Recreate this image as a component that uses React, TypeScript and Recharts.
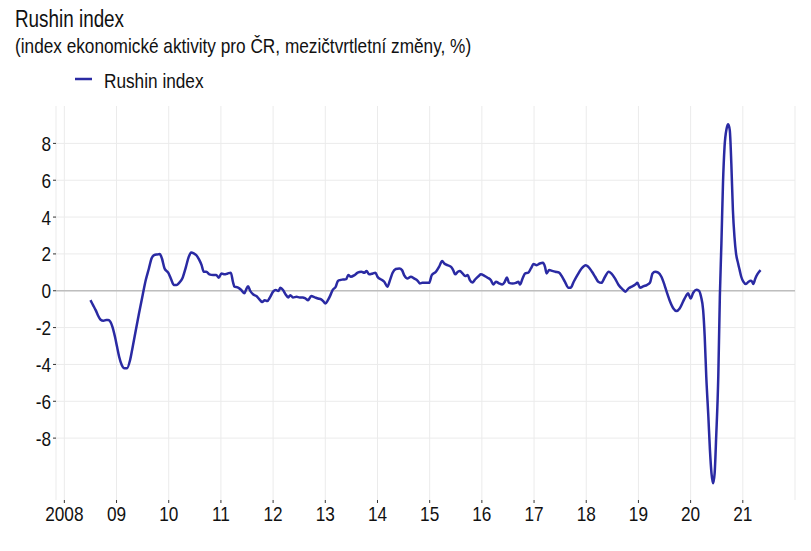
import { LineChart, Line, XAxis, YAxis, CartesianGrid, ReferenceLine } from 'recharts'

// decimal year of each observation
const dates = [
  2008.50, 2008.55, 2008.60, 2008.65, 2008.69, 2008.75, 2008.80, 2008.84, 2008.88, 2008.92, 2008.97,
  2009.01, 2009.05, 2009.10, 2009.15, 2009.20, 2009.26, 2009.31, 2009.37, 2009.43, 2009.50, 2009.56,
  2009.62, 2009.67, 2009.72, 2009.78, 2009.83, 2009.87, 2009.92, 2009.99,
  2010.04, 2010.10, 2010.15, 2010.20, 2010.26, 2010.33, 2010.38, 2010.43, 2010.48, 2010.53, 2010.58,
  2010.63, 2010.67, 2010.72, 2010.78, 2010.85, 2010.91, 2010.96,
  2011.01, 2011.07, 2011.13, 2011.19, 2011.23, 2011.26, 2011.32, 2011.39, 2011.45, 2011.48, 2011.52,
  2011.56, 2011.62, 2011.68, 2011.75, 2011.79, 2011.84, 2011.89, 2011.94,
  2012.00, 2012.05, 2012.10, 2012.14, 2012.19, 2012.24, 2012.29, 2012.33, 2012.38, 2012.45, 2012.51,
  2012.57, 2012.62, 2012.67, 2012.73, 2012.80, 2012.86, 2012.92, 2012.97,
  2013.00, 2013.05, 2013.09, 2013.14, 2013.20, 2013.24, 2013.28, 2013.34, 2013.40, 2013.44, 2013.49,
  2013.56, 2013.62, 2013.69, 2013.75, 2013.79, 2013.84, 2013.91, 2013.96,
  2014.00, 2014.07, 2014.13, 2014.19, 2014.24, 2014.29, 2014.35, 2014.42, 2014.47, 2014.51, 2014.58,
  2014.64, 2014.70, 2014.77, 2014.81, 2014.86, 2014.92, 2014.99,
  2015.04, 2015.12, 2015.18, 2015.24, 2015.28, 2015.34, 2015.41, 2015.45, 2015.49, 2015.54, 2015.58,
  2015.63, 2015.68, 2015.73, 2015.77, 2015.82, 2015.87, 2015.94, 2015.98,
  2016.05, 2016.11, 2016.17, 2016.22, 2016.27, 2016.33, 2016.39, 2016.44, 2016.48, 2016.52, 2016.59,
  2016.65, 2016.70, 2016.73, 2016.78, 2016.83, 2016.89, 2016.94, 2016.99,
  2017.05, 2017.11, 2017.17, 2017.21, 2017.24, 2017.29, 2017.35, 2017.41, 2017.48, 2017.53, 2017.59,
  2017.66, 2017.70, 2017.76, 2017.83, 2017.91, 2017.99,
  2018.04, 2018.11, 2018.17, 2018.23, 2018.29, 2018.36, 2018.43, 2018.48, 2018.55, 2018.62, 2018.71,
  2018.75, 2018.81, 2018.87, 2018.94, 2018.98,
  2019.03, 2019.10, 2019.16, 2019.22, 2019.27, 2019.32, 2019.38, 2019.44, 2019.50, 2019.54, 2019.60,
  2019.67, 2019.73, 2019.79, 2019.86, 2019.91, 2019.95,
  2020.00, 2020.05, 2020.11, 2020.16, 2020.20, 2020.24, 2020.27, 2020.30, 2020.34, 2020.37, 2020.40,
  2020.43, 2020.46, 2020.49, 2020.53, 2020.56, 2020.59, 2020.62, 2020.65, 2020.69, 2020.72, 2020.75,
  2020.78, 2020.81, 2020.84, 2020.87, 2020.91, 2020.94, 2020.97,
  2021.01, 2021.06, 2021.11, 2021.15, 2021.18, 2021.20, 2021.24, 2021.28, 2021.34,
]

// Rushin index, q/q change in %
const rushin = [
  -0.51, -0.78, -1.05, -1.37, -1.56, -1.63, -1.59, -1.59, -1.68, -1.95, -2.50,
  -3.04, -3.58, -4.03, -4.21, -4.21, -3.76, -3.04, -2.13, -1.23, -0.24, 0.58,
  1.21, 1.75, 1.93, 1.97, 1.99, 1.75, 1.21, 0.98,
  0.67, 0.31, 0.31, 0.43, 0.67, 1.30, 1.81, 2.08, 2.03, 1.93, 1.70,
  1.39, 1.03, 1.03, 0.89, 0.85, 0.85, 0.71,
  0.94, 0.89, 0.94, 0.98, 0.49, 0.22, 0.18, 0.04, -0.14, 0.04, 0.25,
  0.00, -0.20, -0.29, -0.51, -0.61, -0.51, -0.56, -0.36,
  -0.05, 0.04, -0.02, 0.16, 0.04, -0.20, -0.36, -0.24, -0.36, -0.33, -0.36,
  -0.36, -0.42, -0.51, -0.29, -0.36, -0.42, -0.47, -0.60,
  -0.69, -0.51, -0.29, 0.04, 0.22, 0.52, 0.58, 0.61, 0.63, 0.85, 0.76,
  0.85, 0.98, 1.03, 0.98, 1.07, 0.89, 0.94, 0.98,
  0.76, 0.61, 0.49, 0.22, 0.58, 0.98, 1.18, 1.21, 1.12, 0.85, 0.67,
  0.76, 0.67, 0.54, 0.40, 0.43, 0.43, 0.43,
  0.85, 1.03, 1.30, 1.61, 1.48, 1.39, 1.30, 1.12, 0.89, 1.03, 1.07,
  0.94, 0.80, 0.85, 0.58, 0.45, 0.61, 0.80, 0.89,
  0.81, 0.71, 0.58, 0.34, 0.49, 0.40, 0.34, 0.49, 0.72, 0.43, 0.40,
  0.43, 0.49, 0.34, 0.67, 0.94, 0.98, 1.21, 1.45,
  1.39, 1.48, 1.52, 1.30, 0.94, 1.12, 1.08, 1.03, 0.98, 0.80, 0.49,
  0.16, 0.16, 0.49, 0.85, 1.21, 1.39,
  1.30, 1.03, 0.76, 0.49, 0.43, 0.76, 1.03, 0.94, 0.67, 0.31, 0.04,
  -0.05, 0.13, 0.22, 0.34, 0.43,
  0.16, 0.25, 0.31, 0.43, 0.94, 1.03, 0.98, 0.76, 0.31, -0.05, -0.54,
  -0.96, -1.10, -0.96, -0.56, -0.29, -0.14,
  -0.42, -0.11, 0.05, 0.00, -0.33, -1.05, -2.50, -4.67, -6.84, -8.64, -9.91,
  -10.45, -9.91, -7.92, -4.67, -0.33, 2.57, 5.82, 7.81, 8.81, 9.04, 8.72,
  6.91, 4.38, 2.93, 2.03, 1.48, 1.12, 0.76,
  0.49, 0.36, 0.49, 0.54, 0.49, 0.36, 0.67, 0.90, 1.12,
]

const yearTicks = [2008, 2009, 2010, 2011, 2012, 2013, 2014, 2015, 2016, 2017, 2018, 2019, 2020, 2021]
const valueTicks = [-8, -6, -4, -2, 0, 2, 4, 6, 8]
const gridValues = [-8, -7, -6, -5, -4, -3, -2, -1, 0, 1, 2, 3, 4, 5, 6, 7, 8]

const data = dates.map((t, i) => ({ t, rushin: rushin[i] }))

// no Arial Narrow offline, so squeeze Liberation Sans horizontally instead
const FONT = '"Liberation Sans", Arial, sans-serif'
const SQUEEZE = 0.82
const BLUE = '#2a2aa3'

const yearLabel = (y: number) => (y === 2008 ? '2008' : String(y % 100).padStart(2, '0'))

function XTick(props: any) {
  const { x, y, payload } = props
  return (
    <text
      transform={`translate(${x},${y}) scale(${SQUEEZE},1)`}
      dy="0.71em"
      textAnchor="middle"
      fill="#111"
      fontSize={21}
      fontFamily={FONT}
    >
      {yearLabel(payload.value)}
    </text>
  )
}

function YTick(props: any) {
  const { x, y, payload } = props
  return (
    <text
      transform={`translate(${x},${y}) scale(${SQUEEZE},1)`}
      dy="0.355em"
      textAnchor="end"
      fill="#111"
      fontSize={21}
      fontFamily={FONT}
    >
      {payload.value}
    </text>
  )
}

const textStyle = {
  position: 'absolute' as const,
  fontFamily: FONT,
  lineHeight: 1,
  color: '#111',
  whiteSpace: 'nowrap' as const,
  transform: `scaleX(${SQUEEZE})`,
  transformOrigin: 'left top',
}

export default function App() {
  return (
    <div style={{ position: 'absolute', left: 0, top: 0, width: 811, height: 551, background: '#fff' }}>
      <div style={{ ...textStyle, left: 15, top: 8, fontSize: 23 }}>Rushin index</div>
      <div style={{ ...textStyle, left: 15, top: 35, fontSize: 21 }}>
        (index ekonomické aktivity pro ČR, mezičtvrtletní změny, %)
      </div>
      <svg width={17} height={4} style={{ position: 'absolute', left: 75, top: 77 }}>
        <line x1={0} y1={2} x2={17} y2={2} stroke={BLUE} strokeWidth={2.5} />
      </svg>
      <div style={{ ...textStyle, left: 104, top: 70, fontSize: 21 }}>Rushin index</div>
      <LineChart width={811} height={551} data={data} margin={{ top: 106, right: 16, bottom: 21, left: 0 }}>
        <CartesianGrid stroke="#ebebeb" horizontalValues={gridValues} />
        <XAxis
          dataKey="t"
          type="number"
          domain={[2007.84, 2022.0]}
          allowDataOverflow
          ticks={yearTicks}
          axisLine={false}
          tickLine={{ stroke: '#333' }}
          tickSize={3}
          tickMargin={3}
          height={30}
          tick={<XTick />}
        />
        <YAxis
          type="number"
          domain={[-11.36, 10.03]}
          allowDataOverflow
          ticks={valueTicks}
          axisLine={false}
          tickLine={{ stroke: '#333' }}
          tickSize={3}
          tickMargin={2}
          width={56}
          tick={<YTick />}
        />
        <ReferenceLine y={0} stroke="#bebebe" strokeWidth={1.6} />
        <Line
          type="monotone"
          dataKey="rushin"
          name="Rushin index"
          stroke={BLUE}
          strokeWidth={2.5}
          dot={false}
          isAnimationActive={false}
        />
      </LineChart>
    </div>
  )
}
